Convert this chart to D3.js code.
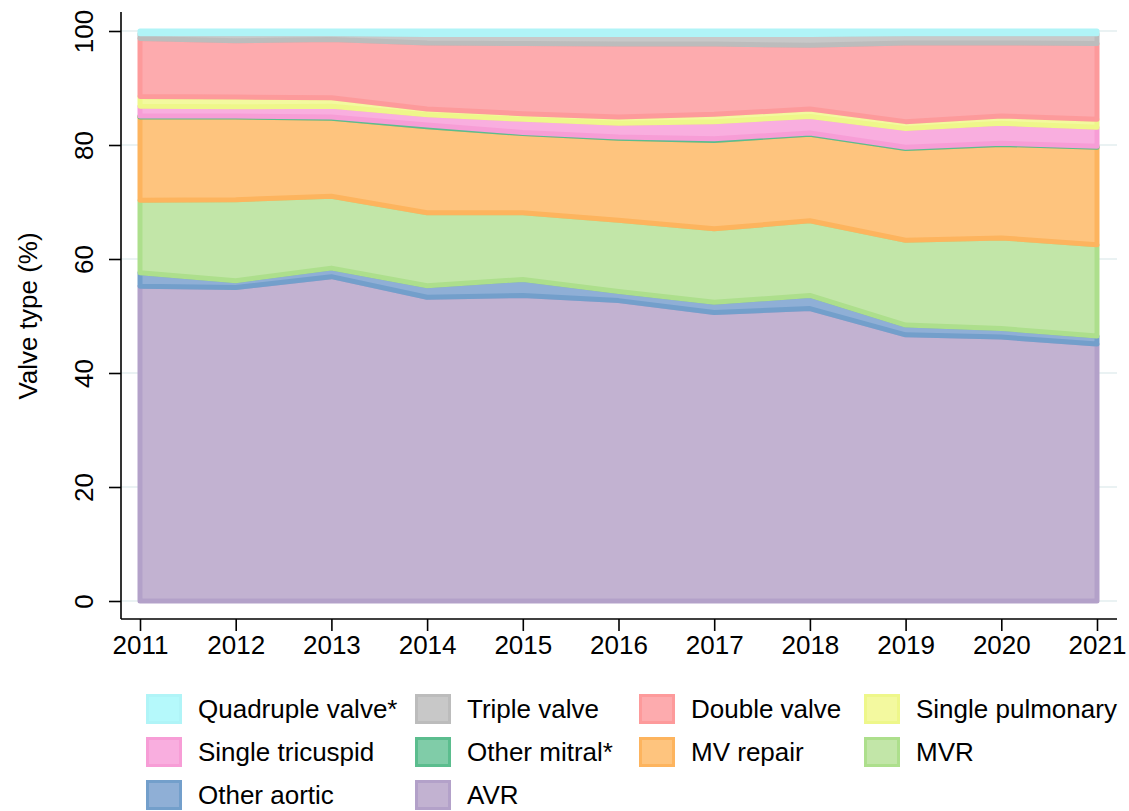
<!DOCTYPE html>
<html>
<head>
<meta charset="utf-8">
<script src="https://cdn.jsdelivr.net/npm/d3@7"></script>
<style>
  html, body { margin: 0; padding: 0; background: #fff; }
  svg { display: block; font-family: "Liberation Sans", Arial, sans-serif; }
</style>
</head>
<body>
<svg id="chart" width="1129" height="811"></svg>
<script>
// Share of procedures by valve type, 2011-2021 (percent)
const years = [2011, 2012, 2013, 2014, 2015, 2016, 2017, 2018, 2019, 2020, 2021];

const avr            = [55.2, 55.0, 56.9, 53.3, 53.6, 52.7, 50.6, 51.3, 46.7, 46.3, 45.1];
const otherAortic    = [2.4, 1.2, 1.5, 2.0, 2.8, 1.6, 1.8, 2.3, 1.7, 1.5, 1.4];
const mvr            = [12.7, 14.2, 12.6, 12.8, 11.7, 12.5, 12.9, 13.1, 14.9, 15.9, 16.0];
const mvRepair       = [14.6, 14.5, 13.7, 15.1, 13.9, 14.4, 15.5, 15.2, 16.1, 16.4, 17.1];
const otherMitral    = [0.2, 0.2, 0.2, 0.3, 0.2, 0.2, 0.3, 0.2, 0.2, 0.2, 0.2];
const singleTricusp  = [1.7, 1.6, 1.9, 1.8, 2.3, 2.4, 3.0, 2.9, 3.3, 3.5, 3.3];
const singlePulmon   = [1.7, 1.7, 1.5, 1.0, 1.0, 1.1, 1.3, 1.3, 1.2, 1.3, 1.4];
const doubleValve    = [10.2, 9.9, 10.2, 11.6, 12.3, 12.8, 12.3, 11.2, 13.8, 12.8, 13.3];
const tripleValve    = [0.8, 1.2, 1.0, 1.5, 1.6, 1.7, 1.7, 1.9, 1.6, 1.6, 1.7];
const quadrupleValve = [0.5, 0.5, 0.5, 0.6, 0.6, 0.6, 0.6, 0.6, 0.5, 0.5, 0.5];

// Stack order, bottom to top
const seriesNames = ["AVR", "Other aortic", "MVR", "MV repair", "Other mitral*",
  "Single tricuspid", "Single pulmonary", "Double valve", "Triple valve", "Quadruple valve*"];
const seriesValues = [avr, otherAortic, mvr, mvRepair, otherMitral,
  singleTricusp, singlePulmon, doubleValve, tripleValve, quadrupleValve];
const fillColors = ["#c2b2d1", "#8fafd6", "#c2e6a8", "#fec47e", "#80cca8",
  "#f9aedf", "#f3f99f", "#fdabae", "#c8c8c8", "#b5f9fb"];
const lineColors = ["#b3a1c9", "#739fcb", "#addf8c", "#fdb45e", "#5bbd8e",
  "#f79dd6", "#eef78a", "#fd9a9b", "#bcbcbc", "#b0f4f7"];

// Legend reading order (four columns)
const legendOrder = ["Quadruple valve*", "Triple valve", "Double valve", "Single pulmonary",
  "Single tricuspid", "Other mitral*", "MV repair", "MVR",
  "Other aortic", "AVR"];

const yTicks = [0, 20, 40, 60, 80, 100];

const rows = years.map((yr, i) => {
  const r = { year: yr };
  seriesNames.forEach((n, k) => { r[n] = seriesValues[k][i]; });
  return r;
});

const svg = d3.select("#chart");
const x = d3.scaleLinear().domain([2011, 2021]).range([140, 1097]);
const y = d3.scaleLinear().domain([0, 100]).range([601, 31]);
const axisX = 121, axisY = 619, plotRight = 1117;
const fontSize = 26;

// Horizontal gridlines
svg.append("g").selectAll("line").data(yTicks).join("line")
  .attr("x1", axisX).attr("x2", plotRight)
  .attr("y1", d => y(d)).attr("y2", d => y(d))
  .attr("stroke", "#eaf2f3").attr("stroke-width", 2);

// Stacked areas
const stacked = d3.stack().keys(seriesNames)(rows);
const area = d3.area()
  .x(d => x(d.data.year))
  .y0(d => y(d[0]))
  .y1(d => y(d[1]));

svg.append("g").selectAll("path").data(stacked).join("path")
  .attr("d", area)
  .attr("fill", (d, i) => fillColors[i])
  .attr("stroke", (d, i) => lineColors[i])
  .attr("stroke-width", 5)
  .attr("stroke-linejoin", "round");

// Y axis
const yAxis = d3.axisLeft(y).tickValues(yTicks).tickSize(12).tickPadding(16).tickFormat(d3.format("d"));
const gy = svg.append("g").attr("transform", `translate(${axisX},0)`).call(yAxis);
gy.select(".domain").attr("d", `M0,12V${axisY}`).attr("stroke", "#000").attr("stroke-width", 1.6);
gy.selectAll(".tick line").attr("stroke", "#000").attr("stroke-width", 1.6);
gy.selectAll(".tick text")
  .attr("font-size", fontSize).attr("fill", "#000")
  .attr("text-anchor", "middle")
  .attr("dy", 0)
  .attr("transform", "translate(-28,0) rotate(-90)")
  .attr("x", 0).attr("y", 0);

// X axis
const xAxis = d3.axisBottom(x).tickValues(years).tickSize(12).tickPadding(5).tickFormat(d3.format("d"));
const gx = svg.append("g").attr("transform", `translate(0,${axisY})`).call(xAxis);
gx.select(".domain").attr("d", `M${axisX},0H${plotRight}`).attr("stroke", "#000").attr("stroke-width", 1.6);
gx.selectAll(".tick line").attr("stroke", "#000").attr("stroke-width", 1.6);
gx.selectAll(".tick text").attr("font-size", fontSize).attr("fill", "#000");

// Y axis title
svg.append("text")
  .attr("transform", `translate(37,${(y(0) + y(100)) / 2}) rotate(-90)`)
  .attr("text-anchor", "middle")
  .attr("font-size", fontSize)
  .attr("fill", "#000")
  .text("Valve type (%)");

// Legend
const colX = [146, 415, 639, 864];
const rowY = [694, 737, 780];
const leg = svg.append("g");
legendOrder.forEach((name, j) => {
  const k = seriesNames.indexOf(name);
  const cx = colX[j % 4], cy = rowY[Math.floor(j / 4)];
  leg.append("rect")
    .attr("x", cx + 1.5).attr("y", cy + 1.5)
    .attr("width", 33).attr("height", 27)
    .attr("fill", fillColors[k])
    .attr("stroke", lineColors[k]).attr("stroke-width", 3);
  leg.append("text")
    .attr("x", cx + 52).attr("y", cy + 15)
    .attr("dominant-baseline", "central")
    .attr("font-size", fontSize)
    .attr("fill", "#000")
    .text(name);
});
</script>
</body>
</html>
